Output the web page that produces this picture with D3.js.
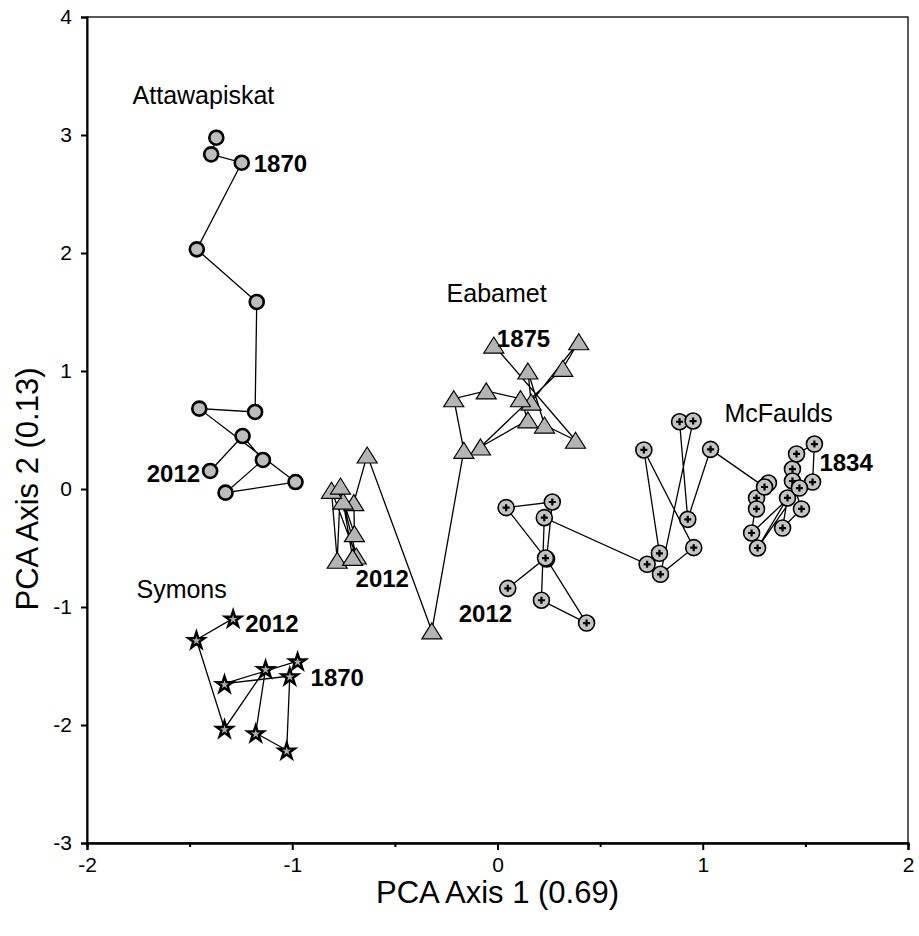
<!DOCTYPE html>
<html>
<head>
<meta charset="utf-8">
<script src="https://cdn.jsdelivr.net/npm/d3@7"></script>
<style>
  html, body { margin: 0; padding: 0; background: #fff; }
  svg { display: block; font-family: "Liberation Sans", Arial, Helvetica, sans-serif; }
</style>
</head>
<body>
<svg id="chart" width="919" height="936"></svg>
<script>
// PCA site trajectories: [axis 1, axis 2] scores, in sequence along each core
const attawapiskat = [
  [-1.370, 2.977], [-1.395, 2.836], [-1.246, 2.765], [-1.465, 2.031],
  [-1.173, 1.585], [-1.181, 0.653], [-1.453, 0.681], [-0.984, 0.059],
  [-1.325, -0.031], [-1.143, 0.246], [-1.242, 0.449], [-1.400, 0.153]
];
const eabamet = [
  [-0.018, 1.220], [0.380, 0.413], [0.229, 0.542], [0.148, 1.000],
  [0.164, 0.737], [0.396, 1.248], [0.318, 1.023], [-0.083, 0.356],
  [0.148, 0.585], [0.112, 0.765], [-0.055, 0.831], [-0.213, 0.765],
  [-0.164, 0.328], [-0.320, -1.203], [-0.635, 0.288], [-0.700, -0.116],
  [-0.697, -0.379], [-0.752, -0.102], [-0.688, -0.568], [-0.809, -0.011],
  [-0.781, -0.604], [-0.765, 0.025], [-0.706, -0.580]
];
const mcfaulds = [
  [1.437, 0.169], [1.457, 0.297], [1.544, 0.381], [1.535, 0.059],
  [1.437, 0.068], [1.481, -0.169], [1.389, -0.331], [1.413, -0.076],
  [1.267, -0.500], [1.471, 0.008], [1.238, -0.373], [1.262, -0.076],
  [1.262, -0.169], [1.320, 0.051], [1.301, 0.017], [1.038, 0.336],
  [0.927, -0.257], [0.887, 0.570], [0.953, 0.576], [0.794, -0.723],
  [0.956, -0.497], [0.713, 0.331], [0.789, -0.545], [0.729, -0.638],
  [0.228, -0.243], [0.214, -0.943], [0.434, -1.136], [0.239, -0.593],
  [0.267, -0.110], [0.042, -0.158], [0.234, -0.585], [0.050, -0.842]
];
const symons = [
  [-1.288, -1.096], [-1.467, -1.277], [-1.330, -2.031], [-1.130, -1.523],
  [-1.178, -2.068], [-1.027, -2.214], [-1.012, -1.585], [-1.330, -1.650],
  [-0.974, -1.458]
];

// Site names and where they are written (axis units)
const siteNames = ["Attawapiskat", "Eabamet", "McFaulds", "Symons"];
const siteNameX = [-1.778, -0.248, 1.106, -1.759];
const siteNameY = [3.263, 1.585, 0.568, -0.924];

// Year tags: site, point index, text
const yearSite = ["attawapiskat", "attawapiskat", "eabamet", "eabamet", "mcfaulds", "mcfaulds", "symons", "symons"];
const yearIndex = [2, 11, 0, 22, 2, 31, 0, 8];
const yearText = ["1870", "2012", "1875", "2012", "1834", "2012", "2012", "1870"];

const xTicks = [-2, -1, 0, 1, 2];
const xMinorTicks = [-1.5, -0.5, 0.5, 1.5];
const yTicks = [-3, -2, -1, 0, 1, 2, 3, 4];

const svg = d3.select("#chart");
const plotLeft = 87, plotRight = 908, plotTop = 17, plotBottom = 843;

const x = d3.scaleLinear().domain([-2, 2]).range([plotLeft, plotRight]);
const y = d3.scaleLinear().domain([-3, 4]).range([plotBottom, plotTop]);

// frame
svg.append("rect")
  .attr("x", plotLeft).attr("y", plotTop)
  .attr("width", plotRight - plotLeft).attr("height", plotBottom - plotTop)
  .attr("fill", "none").attr("stroke", "#000").attr("stroke-width", 1.3);

// axes
const fmt = d => String(d);
const xAxis = svg.append("g").attr("transform", `translate(0,${plotBottom})`)
  .call(d3.axisBottom(x).tickValues(xTicks).tickSize(7).tickPadding(7).tickFormat(fmt));
const xMinor = svg.append("g").attr("transform", `translate(0,${plotBottom})`)
  .call(d3.axisBottom(x).tickValues(xMinorTicks).tickSize(4).tickFormat(""));
const yAxis = svg.append("g").attr("transform", `translate(${plotLeft},0)`)
  .call(d3.axisLeft(y).tickValues(yTicks).tickSize(6).tickPadding(9).tickFormat(fmt));

[xAxis, xMinor, yAxis].forEach(g => {
  g.attr("font-size", null).attr("font-family", null);
  g.select(".domain").attr("stroke", "#000").attr("stroke-width", 2);
  g.selectAll(".tick line").attr("stroke", "#000").attr("stroke-width", 2);
  g.selectAll(".tick text").attr("fill", "#000")
    .style("font-family", "'Liberation Sans', Arial, sans-serif").style("font-size", "21px");
});

// axis titles
svg.append("text")
  .attr("x", (plotLeft + plotRight) / 2).attr("y", 903)
  .attr("text-anchor", "middle")
  .style("font-size", "31px")
  .text("PCA Axis 1 (0.69)");
svg.append("text")
  .attr("transform", `translate(38,${y(0)}) rotate(-90)`)
  .attr("text-anchor", "middle")
  .style("font-size", "31px")
  .text("PCA Axis 2 (0.13)");

const lineGen = d3.line().x(d => x(d[0])).y(d => y(d[1]));
const plot = svg.append("g");

function trail(data) {
  plot.append("path").datum(data)
    .attr("d", lineGen)
    .attr("fill", "none").attr("stroke", "#000").attr("stroke-width", 1.3);
}
[attawapiskat, eabamet, mcfaulds, symons].forEach(trail);

// Attawapiskat: grey circles, heavy outline
plot.append("g").selectAll("circle").data(attawapiskat).join("circle")
  .attr("cx", d => x(d[0])).attr("cy", d => y(d[1])).attr("r", 7)
  .attr("fill", "#bdbdbd").attr("stroke", "#000").attr("stroke-width", 2.6);

// Eabamet: grey triangles
const tri = "M0,-9.5 L10,6.5 L-10,6.5 Z";
plot.append("g").selectAll("path").data(eabamet).join("path")
  .attr("transform", d => `translate(${x(d[0])},${y(d[1]) + 1.5})`)
  .attr("d", tri)
  .attr("fill", "#b4b4b4").attr("stroke", "#000").attr("stroke-width", 1.2)
  .attr("stroke-linejoin", "miter");

// McFaulds: grey circles with a cross
const mcG = plot.append("g").selectAll("g").data(mcfaulds).join("g")
  .attr("transform", d => `translate(${x(d[0])},${y(d[1])})`);
mcG.append("circle").attr("r", 8)
  .attr("fill", "#c4c4c4").attr("stroke", "#000").attr("stroke-width", 1.6);
mcG.append("path").attr("d", "M-3.5,0 H3.5 M0,-3.5 V3.5")
  .attr("stroke", "#000").attr("stroke-width", 2.2);

// Symons: stars
const star = d3.symbol().type(d3.symbolStar).size(80);
plot.append("g").selectAll("path").data(symons).join("path")
  .attr("transform", d => `translate(${x(d[0])},${y(d[1]) + 1})`)
  .attr("d", star)
  .attr("fill", "#b0b0b0").attr("stroke", "#000").attr("stroke-width", 2.4)
  .attr("stroke-linejoin", "miter");

// site names
siteNames.forEach((name, i) => {
  svg.append("text")
    .attr("x", x(siteNameX[i])).attr("y", y(siteNameY[i]))
    .style("font-size", "25px")
    .text(name);
});

// year tags
const sites = { attawapiskat, eabamet, mcfaulds, symons };
const tagOffset = [
  [12, 9, "start"], [-10, 11, "end"], [3, 2, "start"], [3, 30, "start"],
  [5, 27, "start"], [-49, 34, "start"], [12, 14, "start"], [13, 25, "start"]
];
yearText.forEach((t, i) => {
  const p = sites[yearSite[i]][yearIndex[i]];
  const [dx, dy, anchor] = tagOffset[i];
  svg.append("text")
    .attr("x", x(p[0]) + dx).attr("y", y(p[1]) + dy)
    .attr("text-anchor", anchor)
    .style("font-size", "24px").style("font-weight", "bold")
    .text(t);
});
</script>
</body>
</html>
